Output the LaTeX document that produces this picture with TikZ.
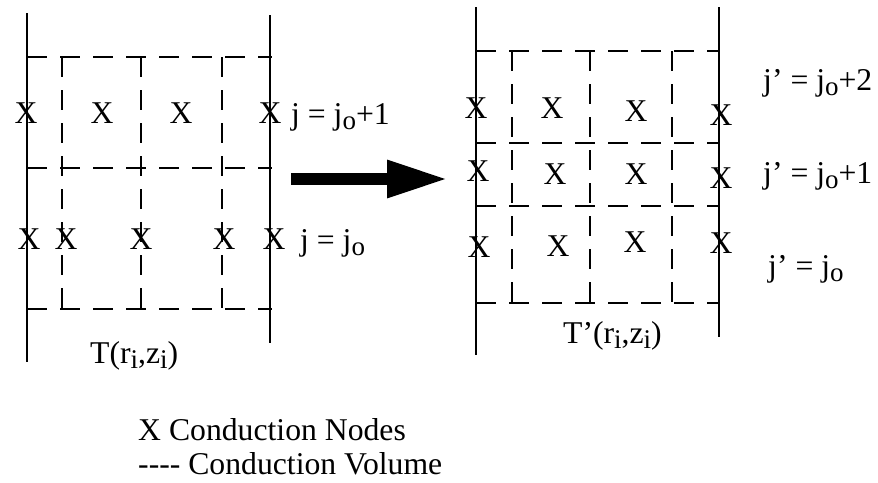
\documentclass[tikz,border=0pt]{standalone}
\usepackage{fontspec}
\setmainfont{Liberation Serif}
\usetikzlibrary{arrows.meta}
\newcommand{\jsub}[1]{\raisebox{-5pt}{\fontsize{27pt}{27pt}\selectfont #1}}
\tikzset{
  wall/.style={line width=2.6pt},
  vol/.style={line width=2.6pt, dash pattern=on 20pt off 13pt},
  cnode/.style={inner sep=0pt, font=\fontsize{31.7pt}{36pt}\selectfont},
  lbl/.style={inner sep=0pt, anchor=base west, font=\fontsize{31.7pt}{36pt}\selectfont},
  bigarr/.style={-{Triangle[length=61pt, width=35pt]}, line width=12pt}
}
\begin{document}
\begin{tikzpicture}[x=1pt, y=-1pt]
  \useasboundingbox (0,0) rectangle (878,482);
  % old grid T(r,z)
  \coordinate (ltop1) at (27,13);   \coordinate (lbot1) at (27,362);
  \coordinate (ltop2) at (270,15);  \coordinate (lbot2) at (270,343);
  \draw[wall] (ltop1) -- (lbot1);
  \draw[wall] (ltop2) -- (lbot2);
  \foreach \y in {57,168,309}
    \draw[vol] (27,\y) -- (272,\y);
  \foreach \x in {62,141,222}
    \draw[vol] (\x,57) -- (\x,309);
  \foreach \x/\y [count=\k] in {26/113,102/113,181/113,270/113,29/239,66/239,141/239,224/239,274/239}
    \node[cnode] (lx\k) at (\x,\y) {X};
  \node[lbl] (lj1) at (291,124) {j = j\jsub{o}+1};
  \node[lbl] (lj0) at (300,250) {j = j\jsub{o}};
  \node[lbl] (ltemp) at (90,363) {T(r\jsub{i},z\jsub{i})};
  % remap
  \coordinate (arrfrom) at (291,179);
  \coordinate (arrto) at (448,179);
  \draw[bigarr] (arrfrom) -- (arrto);
  % new grid T'(r,z)
  \coordinate (rtop1) at (476,7);   \coordinate (rbot1) at (476,355);
  \coordinate (rtop2) at (719,7);   \coordinate (rbot2) at (719,337);
  \draw[wall] (rtop1) -- (rbot1);
  \draw[wall] (rtop2) -- (rbot2);
  \foreach \y in {51,143,206,303}
    \draw[vol] (476,\y) -- (719,\y);
  \foreach \x in {512,590,672}
    \draw[vol] (\x,51) -- (\x,303);
  \foreach \x/\y [count=\k] in {476/108,552/108,636/111,721/115,478/171,555/174,636/174,721/178,479/247,558/246,635/242,721/243}
    \node[cnode] (rx\k) at (\x,\y) {X};
  \node[lbl] (rj2) at (763,90) {j’ = j\jsub{o}+2};
  \node[lbl] (rj1) at (763,183) {j’ = j\jsub{o}+1};
  \node[lbl] (rj0) at (768,276) {j’ = j\jsub{o}};
  \node[lbl] (rtemp) at (563,343) {T’(r\jsub{i},z\jsub{i})};
  % legend
  \node[lbl] (leg1) at (138,440) {X Conduction Nodes};
  \node[lbl] (leg2) at (138,474) {-\kern0pt-\kern0pt-\kern0pt- Conduction Volume};
\end{tikzpicture}
\end{document}
